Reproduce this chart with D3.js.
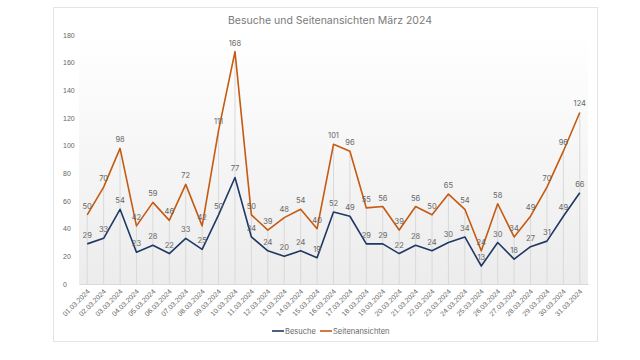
<!DOCTYPE html>
<html><head><meta charset="utf-8">
<script src="https://cdn.jsdelivr.net/npm/d3@7"></script>
<style>body{margin:0;background:#fff;}svg{display:block;font-family:Inter,"Noto Sans",sans-serif;}</style>
</head><body><svg id="c" width="640" height="360"></svg>
<script>
const dates = ["01.03.2024","02.03.2024","03.03.2024","04.03.2024","05.03.2024","06.03.2024","07.03.2024","08.03.2024","09.03.2024","10.03.2024","11.03.2024","12.03.2024","13.03.2024","14.03.2024","15.03.2024","16.03.2024","17.03.2024","18.03.2024","19.03.2024","20.03.2024","21.03.2024","22.03.2024","23.03.2024","24.03.2024","25.03.2024","26.03.2024","27.03.2024","28.03.2024","29.03.2024","30.03.2024","31.03.2024"];
const besuche = [29,33,54,23,28,22,33,25,50,77,34,24,20,24,19,52,49,29,29,22,28,24,30,34,13,30,18,27,31,49,66];
const seitenansichten = [50,70,98,42,59,46,72,42,111,168,50,39,48,54,40,101,96,55,56,39,56,50,65,54,24,58,34,49,70,96,124];
const yTicks = [0,20,40,60,80,100,120,140,160,180];
const title = "Besuche und Seitenansichten März 2024";
const seriesNames = ["Besuche","Seitenansichten"];
const colors = ["#1f3864","#c55a11"];

(function(){
const svg = d3.select("#c");
const pl = 79, pr = 588, pt = 35, pb = 284;
const txt = "#666666";

svg.append("rect").attr("x",53.5).attr("y",7.5).attr("width",544).attr("height",334)
  .attr("fill","#fff").attr("stroke","#e4e4e4");

const defs = svg.append("defs");
const g = defs.append("linearGradient").attr("id","bg").attr("x1",0).attr("y1",0).attr("x2",0).attr("y2",1);
g.append("stop").attr("offset","0%").attr("stop-color","#ffffff");
g.append("stop").attr("offset","100%").attr("stop-color","#ececec");

const x = d3.scaleBand().domain(dates).range([pl,pr]);
const y = d3.scaleLinear().domain([0,180]).range([pb,pt]);
const cx = d => x(d) + x.bandwidth()/2;

svg.append("rect").attr("x",pl).attr("y",pt).attr("width",pr-pl).attr("height",pb-pt).attr("fill","url(#bg)");

svg.append("text").attr("x",330).attr("y",24).attr("text-anchor","middle")
  .attr("font-size",10.5).style("fill","#7a7a7a").text(title);

const ya = svg.append("g").attr("transform",`translate(${pl},0)`)
  .call(d3.axisLeft(y).tickValues(yTicks).tickSize(0).tickPadding(10));
ya.select(".domain").remove();
ya.selectAll("text").attr("font-size",7).style("fill",txt).attr("text-anchor","start").attr("x",-16);

svg.append("g").selectAll("line").data(dates).join("line")
  .attr("x1",d=>cx(d)).attr("x2",d=>cx(d))
  .attr("y1",(d,i)=>y(Math.max(besuche[i],seitenansichten[i])))
  .attr("y2",pb).attr("stroke","#d9d9d9").attr("stroke-width",1);

const xa = svg.append("g").attr("transform",`translate(0,${pb})`)
  .call(d3.axisBottom(x).tickSize(0).tickPadding(0));
xa.select(".domain").attr("stroke","#d9d9d9");
xa.selectAll("text").attr("font-size",7).style("fill",txt)
  .attr("text-anchor","end").attr("dy",0)
  .attr("transform","translate(3,8) rotate(-45)");

const line = d3.line().x((d,i)=>cx(dates[i])).y(d=>y(d));
[besuche,seitenansichten].forEach((s,k)=>{
  svg.append("path").datum(s).attr("d",line).attr("fill","none")
    .attr("stroke",colors[k]).attr("stroke-width",1.6).attr("stroke-linejoin","round");
});
[besuche,seitenansichten].forEach((s,k)=>{
  svg.append("g").selectAll("text").data(s).join("text")
    .attr("x",(d,i)=>cx(dates[i])).attr("y",d=>y(d)-6)
    .attr("text-anchor","middle").attr("font-size",7.5).style("fill",txt).text(d=>d);
});

const lg = svg.append("g");
const lx = [272,320];
seriesNames.forEach((n,k)=>{
  lg.append("line").attr("x1",lx[k]).attr("x2",lx[k]+12).attr("y1",331).attr("y2",331)
    .attr("stroke",colors[k]).attr("stroke-width",1.6);
  lg.append("text").attr("x",lx[k]+13).attr("y",334).attr("font-size",7.5).style("fill",txt).text(n);
});
})();
</script></body></html>
